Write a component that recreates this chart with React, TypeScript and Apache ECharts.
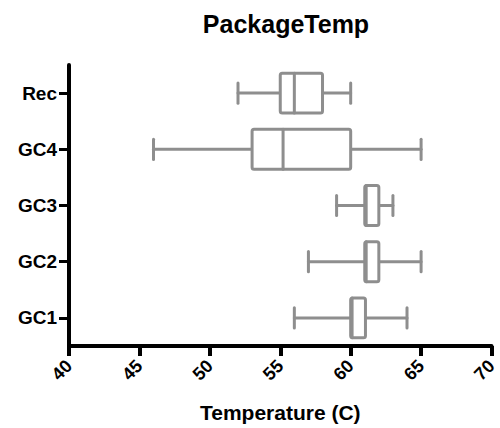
import React, { useEffect, useRef } from 'react';
import * as echarts from 'echarts';

const categories = ['GC1', 'GC2', 'GC3', 'GC4', 'Rec'];
const mins = [56, 57, 59, 46, 52];
const q1s = [60, 61, 61, 53, 55];
const medians = [60.1, 61.1, 61.1, 55.2, 56];
const q3s = [61.05, 62, 62, 60, 58];
const maxs = [64, 65, 63, 65, 60];

const FONT = "'Liberation Sans', Arial, sans-serif";
const GRAY = '#8e8e8e';

export default function App() {
  const ref = useRef<HTMLDivElement>(null);
  useEffect(() => {
    if (!ref.current) return;
    const chart = echarts.init(ref.current, null, { renderer: 'svg' });
    const rows = categories.map((c, i) => [i, mins[i], q1s[i], medians[i], q3s[i], maxs[i]]);
    chart.setOption({
      animation: false,
      backgroundColor: '#ffffff',
      title: {
        text: 'PackageTemp',
        left: 281,
        textAlign: 'center',
        top: 6,
        textStyle: { fontFamily: FONT, fontWeight: 'bold', fontSize: 25, color: '#000' },
      },
      grid: { left: 69, right: 7, top: 65, bottom: 81, containLabel: false },
      xAxis: {
        type: 'value',
        min: 40,
        max: 70,
        interval: 5,
        name: 'Temperature (C)',
        nameLocation: 'middle',
        nameGap: 56,
        nameTextStyle: { fontFamily: FONT, fontWeight: 'bold', fontSize: 21, color: '#000' },
        splitLine: { show: false },
        axisLine: { show: true, lineStyle: { color: '#000', width: 4 } },
        axisTick: { show: true, length: 10, lineStyle: { color: '#000', width: 4 } },
        axisLabel: {
          rotate: 45,
          margin: 17,
          fontFamily: FONT,
          fontWeight: 'bold',
          fontSize: 18,
          color: '#000',
          showMinLabel: true,
          showMaxLabel: true,
        },
      },
      yAxis: {
        type: 'category',
        data: categories,
        axisLine: { show: true, lineStyle: { color: '#000', width: 4 } },
        axisTick: { show: true, alignWithLabel: true, length: 10, lineStyle: { color: '#000', width: 3 } },
        axisLabel: { margin: 12, fontFamily: FONT, fontWeight: 'bold', fontSize: 19, color: '#000' },
        splitLine: { show: false },
      },
      series: [
        {
          type: 'custom',
          data: rows,
          encode: { x: [1, 2, 3, 4, 5], y: 0 },
          renderItem: (params: any, api: any) => {
            const cat = api.value(0);
            const pts = [1, 2, 3, 4, 5].map((i) => api.coord([api.value(i), cat]));
            const y = pts[0][1];
            const band = api.size([0, 1])[1];
            const bh = band * 0.71;
            const ch = band * 0.36;
            const style = { stroke: GRAY, lineWidth: 3, fill: 'none', lineCap: 'round', lineJoin: 'round' };
            return {
              type: 'group',
              children: [
                { type: 'line', shape: { x1: pts[0][0], y1: y, x2: pts[1][0], y2: y }, style },
                { type: 'line', shape: { x1: pts[3][0], y1: y, x2: pts[4][0], y2: y }, style },
                { type: 'line', shape: { x1: pts[0][0], y1: y - ch / 2, x2: pts[0][0], y2: y + ch / 2 }, style },
                { type: 'line', shape: { x1: pts[4][0], y1: y - ch / 2, x2: pts[4][0], y2: y + ch / 2 }, style },
                {
                  type: 'rect',
                  shape: { x: pts[1][0], y: y - bh / 2, width: pts[3][0] - pts[1][0], height: bh, r: 2 },
                  style: { ...style, fill: '#ffffff' },
                },
                { type: 'line', shape: { x1: pts[2][0], y1: y - bh / 2, x2: pts[2][0], y2: y + bh / 2 }, style },
              ],
            };
          },
        },
      ],
    });
    return () => chart.dispose();
  }, []);
  return <div ref={ref} style={{ width: 500, height: 428, position: 'absolute', left: 0, top: 0 }} />;
}
